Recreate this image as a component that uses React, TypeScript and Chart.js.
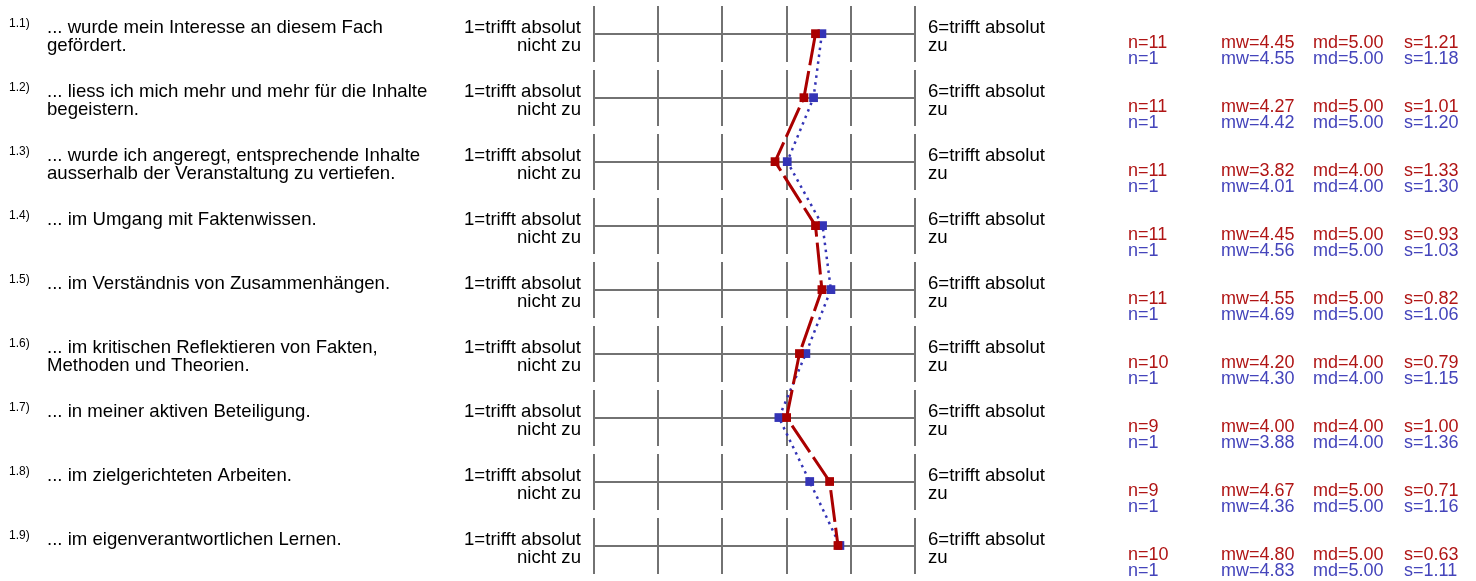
import React, { useEffect, useRef } from 'react';
import { Chart, registerables } from 'chart.js';

Chart.register(...registerables);

// ---------- data ----------
const itemIds = ['1.1)', '1.2)', '1.3)', '1.4)', '1.5)', '1.6)', '1.7)', '1.8)', '1.9)'];
const itemTexts: string[][] = [
  ['... wurde mein Interesse an diesem Fach', 'gefördert.'],
  ['... liess ich mich mehr und mehr für die Inhalte', 'begeistern.'],
  ['... wurde ich angeregt, entsprechende Inhalte', 'ausserhalb der Veranstaltung zu vertiefen.'],
  ['... im Umgang mit Faktenwissen.'],
  ['... im Verständnis von Zusammenhängen.'],
  ['... im kritischen Reflektieren von Fakten,', 'Methoden und Theorien.'],
  ['... in meiner aktiven Beteiligung.'],
  ['... im zielgerichteten Arbeiten.'],
  ['... im eigenverantwortlichen Lernen.'],
];
const leftPoleLabel = ['1=trifft absolut', 'nicht zu'];
const rightPoleLabel = ['6=trifft absolut', 'zu'];
const scaleTicks = [1, 2, 3, 4, 5, 6];

const redN = [11, 11, 11, 11, 11, 10, 9, 9, 10];
const redMw = [4.45, 4.27, 3.82, 4.45, 4.55, 4.2, 4.0, 4.67, 4.8];
const redMd = [5, 5, 4, 5, 5, 4, 4, 5, 5];
const redS = [1.21, 1.01, 1.33, 0.93, 0.82, 0.79, 1.0, 0.71, 0.63];

const blueN = [1, 1, 1, 1, 1, 1, 1, 1, 1];
const blueMw = [4.55, 4.42, 4.01, 4.56, 4.69, 4.3, 3.88, 4.36, 4.83];
const blueMd = [5, 5, 4, 5, 5, 4, 4, 5, 5];
const blueS = [1.18, 1.2, 1.3, 1.03, 1.06, 1.15, 1.36, 1.16, 1.11];

// ---------- styles ----------
const FONT = '"Liberation Sans", Arial, Helvetica, sans-serif';
const RED = '#aa0000';
const BLUE = '#3434b6';
const RED_TEXT = '#b01515';
const BLUE_TEXT = '#4444bb';
const GRID = '#727272';

export default function App() {
  const canvasRef = useRef<HTMLCanvasElement>(null);

  useEffect(() => {
    document.body.style.margin = '0';
    const canvas = canvasRef.current;
    if (!canvas) return;

    const profilePlugin = {
      id: 'profileGrid',
      beforeDatasetsDraw(chart: any) {
        const { ctx, scales } = chart;
        const x = scales.x;
        const y = scales.y;
        ctx.save();
        ctx.strokeStyle = GRID;
        ctx.lineWidth = 2;
        itemIds.forEach((_, i) => {
          const cy = Math.round(y.getPixelForValue(i));
          ctx.beginPath();
          ctx.moveTo(x.getPixelForValue(scaleTicks[0]), cy);
          ctx.lineTo(x.getPixelForValue(scaleTicks[scaleTicks.length - 1]), cy);
          scaleTicks.forEach((t) => {
            const px = Math.round(x.getPixelForValue(t));
            ctx.moveTo(px, cy - 28);
            ctx.lineTo(px, cy + 28);
          });
          ctx.stroke();
        });
        ctx.restore();
      },
      afterDraw(chart: any) {
        const { ctx, scales } = chart;
        const x = scales.x;
        const y = scales.y;
        const xLeft = x.getPixelForValue(scaleTicks[0]);
        const xRight = x.getPixelForValue(scaleTicks[scaleTicks.length - 1]);
        ctx.save();
        ctx.textBaseline = 'alphabetic';
        itemIds.forEach((id, i) => {
          const cy = y.getPixelForValue(i);
          // item id (superscript)
          ctx.fillStyle = '#000';
          ctx.textAlign = 'left';
          ctx.font = `12px ${FONT}`;
          ctx.fillText(id, 9, cy - 6.5);
          // question text
          ctx.font = `18.6px ${FONT}`;
          itemTexts[i].forEach((line, k) => {
            ctx.fillText(line, 47, cy - 0.5 + k * 18);
          });
          // pole labels
          ctx.textAlign = 'right';
          leftPoleLabel.forEach((line, k) => {
            ctx.fillText(line, xLeft - 13, cy - 0.5 + k * 18);
          });
          ctx.textAlign = 'left';
          rightPoleLabel.forEach((line, k) => {
            ctx.fillText(line, xRight + 13, cy - 0.5 + k * 18);
          });
          // statistics
          ctx.font = `18px ${FONT}`;
          const cols = [1128, 1221, 1313, 1404];
          const redVals = [
            `n=${redN[i]}`,
            `mw=${redMw[i].toFixed(2)}`,
            `md=${redMd[i].toFixed(2)}`,
            `s=${redS[i].toFixed(2)}`,
          ];
          const blueVals = [
            `n=${blueN[i]}`,
            `mw=${blueMw[i].toFixed(2)}`,
            `md=${blueMd[i].toFixed(2)}`,
            `s=${blueS[i].toFixed(2)}`,
          ];
          ctx.fillStyle = RED_TEXT;
          redVals.forEach((t, k) => ctx.fillText(t, cols[k], cy + 14));
          ctx.fillStyle = BLUE_TEXT;
          blueVals.forEach((t, k) => ctx.fillText(t, cols[k], cy + 30));
        });
        ctx.restore();
      },
    };

    const chart = new Chart(canvas, {
      type: 'line',
      data: {
        datasets: [
          {
            label: 'red',
            data: redMw.map((v, i) => ({ x: v, y: i })),
            borderColor: RED,
            backgroundColor: RED,
            borderWidth: 3,
            borderDash: [32, 6],
            pointStyle: 'rect',
            pointRadius: 6.2,
            pointBorderWidth: 0,
            pointBackgroundColor: RED,
            tension: 0,
          },
          {
            label: 'blue',
            data: blueMw.map((v, i) => ({ x: v, y: i })),
            borderColor: BLUE,
            backgroundColor: BLUE,
            borderWidth: 2.5,
            borderDash: [2.5, 4.5],
            pointStyle: 'rect',
            pointRadius: 6.2,
            pointBorderWidth: 0,
            pointBackgroundColor: BLUE,
            tension: 0,
          },
        ],
      },
      options: {
        animation: false,
        responsive: true,
        maintainAspectRatio: false,
        clip: false,
        layout: { padding: { left: 594, right: 561, top: 6, bottom: 8 } },
        plugins: {
          legend: { display: false },
          tooltip: { enabled: false },
          title: { display: false },
        },
        scales: {
          x: { type: 'linear', min: 1, max: 6, display: false },
          y: { type: 'linear', min: -0.4297, max: 8.4297, reverse: true, display: false },
        },
      },
      plugins: [profilePlugin],
    });

    return () => chart.destroy();
  }, []);

  return (
    <div style={{ position: 'relative', width: '1476px', height: '581px', background: '#fff' }}>
      <canvas ref={canvasRef} />
    </div>
  );
}
